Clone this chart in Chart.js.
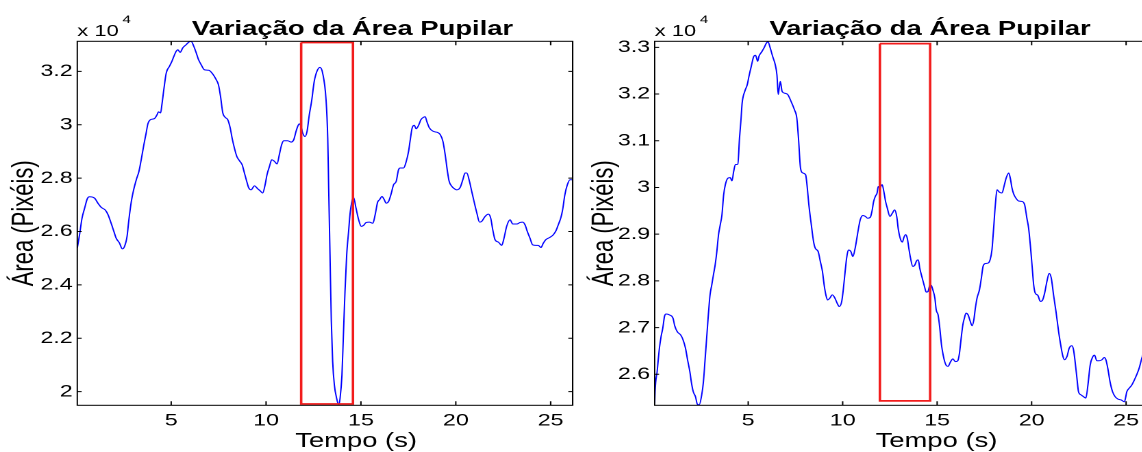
<!DOCTYPE html>
<html><head><meta charset="utf-8">
<script src="https://cdn.jsdelivr.net/npm/chart.js@4.4.1/dist/chart.umd.min.js"></script>
<style>
html,body{margin:0;padding:0;background:#fff;width:1142px;height:452px;overflow:hidden;position:relative;}
.wrap{position:absolute;top:0;width:440px;height:452px;transform:scaleX(1.37);transform-origin:0 0;}
#w1{left:0}
#w2{left:580px}
canvas{display:block}
</style></head><body>
<div class="wrap" id="w1"><canvas id="c1" width="440" height="452"></canvas></div>
<div class="wrap" id="w2"><canvas id="c2" width="440" height="452"></canvas></div>
<script>
// ---------- text ----------
const titleText = 'Variação da Área Pupilar';
const xLabelText = 'Tempo (s)';
const yLabelText = 'Área (Pixéis)';
const exponent = 4;

// ---------- ticks ----------
const xTicks = [5, 10, 15, 20, 25];
const xTickLabels = ['5', '10', '15', '20', '25'];
const leftYTicks = [2.0, 2.2, 2.4, 2.6, 2.8, 3.0, 3.2];
const leftYTickLabels = ['2', '2.2', '2.4', '2.6', '2.8', '3', '3.2'];
const rightYTicks = [2.6, 2.7, 2.8, 2.9, 3.0, 3.1, 3.2, 3.3];
const rightYTickLabels = ['2.6', '2.7', '2.8', '2.9', '3', '3.1', '3.2', '3.3'];

// ---------- left series (area in units of 10^4 pixels) ----------
const leftTime = [0.05,0.17,0.30,0.44,0.58,0.70,0.96,1.14,1.32,1.53,1.67,1.84,1.98,2.10,2.28,2.42,2.54,2.67,2.77,2.90,3.02,3.16,3.30,3.42,3.56,3.68,3.77,3.91,4.12,4.26,4.33,4.44,4.51,4.61,4.74,4.91,5.04,5.14,5.26,5.35,5.47,5.61,5.79,5.96,6.05,6.19,6.32,6.44,6.58,6.75,6.98,7.19,7.37,7.49,7.60,7.72,7.84,7.98,8.11,8.21,8.33,8.46,8.60,8.74,8.86,8.98,9.09,9.21,9.39,9.56,9.68,9.82,9.95,10.05,10.18,10.30,10.44,10.58,10.70,10.82,10.93,11.14,11.32,11.46,11.58,11.67,11.75,11.84,11.93,12.05,12.16,12.28,12.40,12.54,12.68,12.84,12.98,13.16,13.25,13.30,13.37,13.44,13.51,13.60,13.72,13.83,13.90,14.00,14.07,14.16,14.25,14.35,14.44,14.61,14.74,14.88,15.02,15.14,15.28,15.44,15.63,15.75,15.88,15.98,16.11,16.23,16.33,16.46,16.58,16.72,16.86,16.98,17.07,17.25,17.39,17.51,17.60,17.70,17.81,17.91,18.04,18.16,18.30,18.39,18.47,18.61,18.82,19.04,19.18,19.32,19.44,19.56,19.65,19.79,19.93,20.05,20.23,20.37,20.49,20.58,20.72,20.84,20.96,21.11,21.25,21.37,21.54,21.72,21.84,21.95,22.07,22.25,22.42,22.54,22.68,22.86,23.00,23.21,23.39,23.53,23.65,23.77,23.91,24.05,24.23,24.35,24.49,24.61,24.75,24.96,25.14,25.28,25.40,25.53,25.63,25.75,25.88,26.02,26.16];
const leftArea = [2.538,2.588,2.650,2.688,2.723,2.730,2.725,2.706,2.690,2.680,2.663,2.630,2.600,2.575,2.556,2.535,2.544,2.580,2.644,2.713,2.756,2.794,2.825,2.869,2.925,2.969,3.003,3.019,3.023,3.038,3.048,3.044,3.075,3.131,3.194,3.219,3.238,3.256,3.275,3.281,3.271,3.288,3.300,3.311,3.312,3.294,3.269,3.244,3.225,3.206,3.204,3.190,3.169,3.150,3.106,3.044,3.028,3.019,2.988,2.950,2.913,2.881,2.865,2.850,2.819,2.788,2.763,2.756,2.771,2.760,2.753,2.744,2.775,2.813,2.844,2.869,2.863,2.853,2.888,2.925,2.940,2.940,2.935,2.944,2.975,2.994,3.003,2.994,2.969,2.956,2.975,3.038,3.088,3.163,3.200,3.215,3.194,3.094,2.950,2.763,2.513,2.263,2.113,2.025,1.975,1.950,1.975,2.063,2.200,2.375,2.513,2.600,2.675,2.728,2.688,2.644,2.619,2.623,2.634,2.635,2.631,2.663,2.710,2.719,2.731,2.719,2.706,2.713,2.738,2.775,2.788,2.831,2.838,2.838,2.863,2.900,2.944,2.988,2.998,2.985,2.998,3.019,3.028,3.030,3.013,2.988,2.975,2.971,2.963,2.938,2.888,2.825,2.788,2.769,2.760,2.756,2.765,2.794,2.819,2.819,2.788,2.750,2.713,2.669,2.635,2.638,2.656,2.665,2.650,2.606,2.569,2.560,2.548,2.575,2.619,2.644,2.628,2.628,2.634,2.635,2.625,2.600,2.575,2.550,2.548,2.548,2.540,2.556,2.570,2.578,2.588,2.603,2.625,2.650,2.681,2.738,2.775,2.794,2.794];
const leftBoxTime = [11.85, 14.58, 14.58, 11.85, 11.85];
const leftBoxArea = [3.308, 3.308, 1.954, 1.954, 3.308];

// ---------- right series ----------
const rightTime = [0.05,0.07,0.18,0.30,0.39,0.48,0.57,0.66,0.84,1.02,1.11,1.25,1.43,1.55,1.68,1.79,1.91,2.00,2.09,2.21,2.32,2.41,2.54,2.63,2.71,2.80,2.89,2.98,3.07,3.16,3.25,3.34,3.43,3.52,3.61,3.70,3.79,3.93,4.05,4.14,4.23,4.32,4.45,4.54,4.61,4.68,4.82,4.95,5.04,5.16,5.30,5.39,5.50,5.57,5.71,5.84,5.96,6.05,6.14,6.29,6.43,6.52,6.59,6.64,6.70,6.79,6.91,7.09,7.27,7.45,7.57,7.66,7.77,7.89,8.04,8.11,8.21,8.34,8.46,8.55,8.70,8.82,8.93,9.02,9.11,9.20,9.32,9.45,9.59,9.71,9.82,9.95,10.04,10.13,10.21,10.30,10.43,10.54,10.66,10.75,10.84,10.93,11.07,11.20,11.32,11.46,11.55,11.64,11.73,11.82,11.88,11.96,12.09,12.18,12.27,12.36,12.50,12.63,12.75,12.86,12.95,13.07,13.16,13.24,13.33,13.42,13.50,13.59,13.71,13.82,13.91,14.00,14.08,14.21,14.33,14.42,14.51,14.61,14.68,14.77,14.88,14.95,15.05,15.14,15.23,15.32,15.40,15.48,15.58,15.70,15.83,15.97,16.09,16.18,16.27,16.36,16.44,16.53,16.64,16.73,16.85,16.94,17.02,17.11,17.24,17.34,17.43,17.55,17.69,17.80,17.90,17.99,18.08,18.17,18.29,18.43,18.56,18.66,18.79,18.87,18.96,19.05,19.17,19.31,19.49,19.63,19.75,19.84,19.93,20.02,20.11,20.19,20.33,20.46,20.58,20.69,20.81,20.93,21.04,21.16,21.29,21.43,21.51,21.64,21.74,21.87,21.99,22.13,22.22,22.31,22.40,22.48,22.61,22.75,22.87,22.98,23.10,23.23,23.33,23.45,23.58,23.72,23.84,23.93,24.03,24.15,24.28,24.42,24.56,24.74,24.91,25.04,25.16,25.30,25.44,25.56,25.69,25.83,26.00,26.16];
const rightArea = [2.534,2.563,2.606,2.656,2.681,2.699,2.724,2.729,2.727,2.720,2.704,2.691,2.684,2.674,2.656,2.631,2.606,2.581,2.563,2.552,2.535,2.535,2.556,2.584,2.627,2.677,2.727,2.770,2.791,2.813,2.834,2.863,2.899,2.920,2.941,2.984,3.006,3.020,3.021,3.014,3.034,3.049,3.050,3.106,3.141,3.181,3.206,3.220,3.238,3.259,3.281,3.283,3.270,3.281,3.290,3.299,3.309,3.312,3.302,3.281,3.263,3.241,3.199,3.213,3.227,3.206,3.202,3.199,3.184,3.166,3.149,3.106,3.041,3.031,3.027,3.006,2.963,2.920,2.884,2.870,2.863,2.841,2.820,2.791,2.770,2.759,2.763,2.770,2.763,2.752,2.745,2.756,2.784,2.820,2.849,2.866,2.863,2.852,2.870,2.891,2.913,2.931,2.940,2.938,2.934,2.936,2.949,2.970,2.981,2.988,3.002,2.999,3.006,2.991,2.970,2.956,2.938,2.945,2.952,2.938,2.909,2.888,2.883,2.893,2.899,2.891,2.870,2.849,2.831,2.834,2.843,2.845,2.827,2.806,2.788,2.776,2.777,2.790,2.791,2.781,2.763,2.738,2.727,2.699,2.663,2.641,2.627,2.619,2.617,2.626,2.633,2.627,2.629,2.645,2.677,2.706,2.720,2.731,2.727,2.716,2.704,2.716,2.741,2.763,2.781,2.806,2.831,2.837,2.838,2.845,2.866,2.913,2.963,2.995,2.990,2.988,3.006,3.021,3.031,3.020,2.999,2.986,2.977,2.971,2.970,2.963,2.934,2.913,2.877,2.834,2.791,2.774,2.769,2.756,2.759,2.774,2.799,2.816,2.806,2.770,2.734,2.691,2.670,2.641,2.631,2.638,2.656,2.661,2.652,2.624,2.591,2.563,2.556,2.552,2.549,2.577,2.620,2.637,2.641,2.629,2.629,2.631,2.636,2.631,2.613,2.584,2.563,2.552,2.547,2.545,2.541,2.563,2.570,2.577,2.588,2.599,2.613,2.634,2.655,2.675];
const rightBoxTime = [11.97, 14.63, 14.63, 11.97, 11.97];
const rightBoxArea = [3.308, 3.308, 2.543, 2.543, 3.308];

// ---------- helpers ----------
const FONT = '"Liberation Sans", Arial, Helvetica, sans-serif';
const toXY = (xs, ys) => xs.map((x, i) => ({ x: x, y: ys[i] }));

const matlabAxes = {
  id: 'matlabAxes',
  afterDraw(chart, args, o) {
    const { ctx, chartArea: a, scales } = chart;
    const x = scales.x, y = scales.y;
    ctx.save();
    ctx.strokeStyle = '#000';
    ctx.lineWidth = 1;
    ctx.strokeRect(a.left, a.top, a.right - a.left, a.bottom - a.top);
    ctx.beginPath();
    x.ticks.forEach(t => {
      const px = x.getPixelForValue(t.value);
      ctx.moveTo(px, a.bottom); ctx.lineTo(px, a.bottom - o.tickLenX);
      ctx.moveTo(px, a.top); ctx.lineTo(px, a.top + o.tickLenX);
    });
    y.ticks.forEach(t => {
      const py = y.getPixelForValue(t.value);
      ctx.moveTo(a.left, py); ctx.lineTo(a.left + o.tickLenY, py);
      ctx.moveTo(a.right, py); ctx.lineTo(a.right - o.tickLenY, py);
    });
    ctx.stroke();
    ctx.fillStyle = '#000';
    ctx.textBaseline = 'alphabetic';
    ctx.textAlign = 'center';
    ctx.font = 'bold 20px ' + FONT;
    ctx.fillText(o.title, o.titleX, o.titleY);
    ctx.font = '20px ' + FONT;
    ctx.fillText(o.xlabel, o.xlabelX, o.xlabelY);
    ctx.textAlign = 'left';
    ctx.font = '16px ' + FONT;
    ctx.fillText('x 10', a.left, o.expY);
    ctx.font = '11px ' + FONT;
    ctx.fillText(String(o.exponent), a.left + o.expSupDX, o.expY - 13);
    ctx.restore();
  }
};

function makeChart(id, time, area, boxT, boxA, yMin, yMax, yTicks, yTickLabels, padRight, yWidth, titleX, xlabelX) {
  return new Chart(document.getElementById(id), {
    type: 'scatter',
    data: {
      datasets: [
        { data: toXY(boxT, boxA), showLine: true, borderColor: '#f21c1c', borderWidth: 1.8,
          pointRadius: 0, tension: 0, order: 0, clip: false },
        { data: toXY(time, area), showLine: true, borderColor: '#0000ff', borderWidth: 1,
          pointRadius: 0, cubicInterpolationMode: 'monotone', order: 1 }
      ]
    },
    options: {
      responsive: false, animation: false, devicePixelRatio: 2,
      layout: { padding: { top: 41.3, right: padRight, left: 0, bottom: 0 } },
      plugins: {
        legend: { display: false }, tooltip: { enabled: false }, title: { display: false },
        matlabAxes: { title: titleText, xlabel: xLabelText, titleX: titleX, titleY: 35,
          xlabelX: xlabelX, xlabelY: 447, expY: 36, expSupDX: 33, exponent: exponent,
          tickLenX: 4, tickLenY: 3.2 }
      },
      scales: {
        x: {
          type: 'linear', min: 0.05, max: 26.16,
          afterBuildTicks: s => { s.ticks = xTicks.map(v => ({ value: v })); },
          afterFit: s => { s.height = 46.7; },
          grid: { display: false, drawTicks: false }, border: { display: false },
          ticks: { color: '#000', font: { family: FONT, size: 17 }, padding: 5.5, maxRotation: 0,
            callback: v => xTickLabels[xTicks.indexOf(v)] }
        },
        y: {
          type: 'linear', min: yMin, max: yMax,
          afterBuildTicks: s => { s.ticks = yTicks.map(v => ({ value: v })); },
          afterFit: s => { s.width = yWidth; },
          grid: { display: false, drawTicks: false }, border: { display: false },
          ticks: { color: '#000', font: { family: FONT, size: 17 }, padding: 3.3,
            callback: v => yTickLabels[yTicks.findIndex(t => Math.abs(t - v) < 1e-9)] },
          title: { display: true, text: yLabelText, color: '#000', font: { family: FONT, size: 22 },
            padding: { top: 4.8, bottom: 0 } }
        }
      }
    },
    plugins: [matlabAxes]
  });
}

makeChart('c1', leftTime, leftArea, leftBoxTime, leftBoxArea, 1.949, 3.3125,
  leftYTicks, leftYTickLabels, 22, 56.4, 257.3, 259.9);
makeChart('c2', rightTime, rightArea, rightBoxTime, rightBoxArea, 2.5336, 3.3129,
  rightYTicks, rightYTickLabels, 25.4, 54.5, 255.5, 260.2);
</script>
</body></html>
